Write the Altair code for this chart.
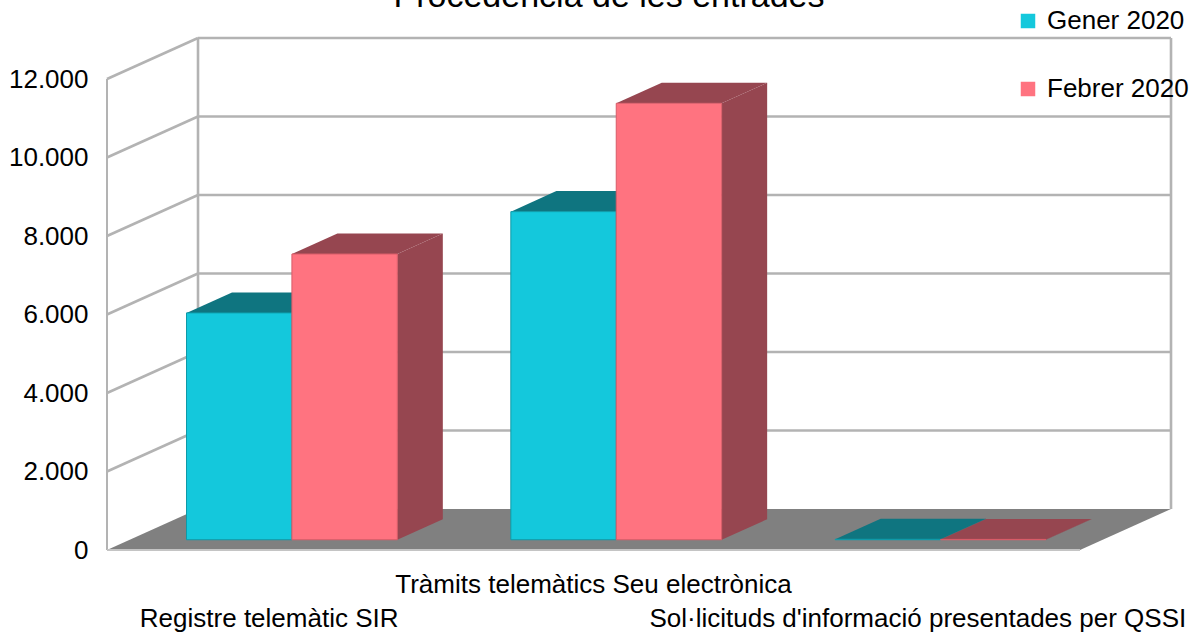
import altair as alt
import pandas as pd

title_text = "Procedencia de les entrades"
categories = [
    "Registre telemàtic SIR",
    "Tràmits telemàtics Seu electrònica",
    "Sol·licituds d'informació presentades per QSSI",
]
series = ["Gener 2020", "Febrer 2020"]
gener = [5780, 8360, 12]
febrer = [7280, 11120, 9]
y_ticks = [0, 2000, 4000, 6000, 8000, 10000, 12000]

front_colors = ["#14C8DC", "#FF7380"]
dark_colors = ["#0F7580", "#964650"]
edge_colors = ["#0E9AA8", "#D85C68"]
GRID = "#B3B3B3"
FLOOR = "#808080"
FONT = "Liberation Sans"

# pseudo-3D projection (style constants)
DX = 0.2806   # depth shift, category units
DY = 1045     # depth shift, value units
F0, F1 = 0.25, 0.75
BAR_START = 0.175
BAR_W = 0.325
N = len(categories)
YMAX = y_ticks[-1]

front, top, side = [], [], []
for i in range(N):
    for s, (name, vals) in enumerate(zip(series, [gener, febrer])):
        v = vals[i]
        x1 = i + BAR_START + s * BAR_W + F0 * DX
        x2 = x1 + BAR_W
        y0 = F0 * DY
        y1 = v + y0
        ddx = (F1 - F0) * DX
        ddy = (F1 - F0) * DY
        bid = f"{i}-{s}"
        front.append(dict(bar=bid, serie=name, x1=x1, x2=x2, y0=y0, y1=y1))
        top.append(dict(bar=bid, serie=name, y=y1, xa=x1, xb=x2))
        top.append(dict(bar=bid, serie=name, y=y1 + ddy, xa=x1 + ddx, xb=x2 + ddx))
        side.append(dict(bar=bid, serie=name, x=x2, ya=y1, yb=y0))
        side.append(dict(bar=bid, serie=name, x=x2 + ddx, ya=y1 + ddy, yb=y0 + ddy))

df_front = pd.DataFrame(front)
df_top = pd.DataFrame(top)
df_side = pd.DataFrame(side)

df_back_h = pd.DataFrame([dict(y=t + DY, xa=DX, xb=N + DX) for t in y_ticks[1:]])
df_back_v = pd.DataFrame([dict(x=DX, ya=DY, yb=YMAX + DY), dict(x=N + DX, ya=DY, yb=YMAX + DY)])
df_diag = pd.DataFrame([dict(xa=0, xb=DX, ya=t, yb=t + DY) for t in y_ticks[1:]])
df_left = pd.DataFrame([dict(x=0, ya=0, yb=YMAX)])
df_floor = pd.DataFrame([dict(y=0, xa=0, xb=N, k="f"), dict(y=DY, xa=DX, xb=N + DX, k="f")])
df_edge = pd.DataFrame([dict(y=0, xa=0, xb=N)])
df_labels = pd.DataFrame([dict(label=c, x=i + 0.5, row=i % 2) for i, c in enumerate(categories)])
df_title = pd.DataFrame([dict(t=title_text)])

xs = alt.Scale(domain=[0, N + DX], nice=False, zero=False)
ys = alt.Scale(domain=[0, YMAX + DY], nice=False, zero=False)
yaxis = alt.Axis(
    values=y_ticks,
    labelExpr="replace(format(datum.value, ',d'), ',', '.')",
    grid=False, domain=False, ticks=False,
    labelFontSize=26, labelFont=FONT, labelColor="#000000",
    labelPadding=19, title=None,
)


def X(f):
    return alt.X(f, type="quantitative", scale=xs, axis=None)


def Y(f):
    return alt.Y(f, type="quantitative", scale=ys, axis=yaxis, stack=None)


back_h = alt.Chart(df_back_h).mark_rule(color=GRID, strokeWidth=2.6).encode(
    x=X("xa"), x2="xb", y=Y("y"))
back_v = alt.Chart(df_back_v).mark_rule(color=GRID, strokeWidth=2.6).encode(
    x=X("x"), y=Y("ya"), y2="yb")
diag = alt.Chart(df_diag).mark_rule(color=GRID, strokeWidth=2.6).encode(
    x=X("xa"), x2="xb", y=Y("ya"), y2="yb")
left = alt.Chart(df_left).mark_rule(color=GRID, strokeWidth=2).encode(
    x=X("x"), y=Y("ya"), y2="yb")
floor = alt.Chart(df_floor).mark_area(orient="horizontal", color=FLOOR).encode(
    y=Y("y"), x=X("xa"), x2="xb", detail="k:N")
edge = alt.Chart(df_edge).mark_rule(color="#C4C4C4", strokeWidth=2).encode(
    x=X("xa"), x2="xb", y=Y("y"))

dark_cond = alt.condition(alt.datum.serie == series[0], alt.value(dark_colors[0]), alt.value(dark_colors[1]))
sides = alt.Chart(df_side).mark_area(orient="vertical").encode(
    x=X("x"), y=Y("ya"), y2="yb", detail="bar:N", fill=dark_cond)
tops = alt.Chart(df_top).mark_area(orient="horizontal").encode(
    y=Y("y"), x=X("xa"), x2="xb", detail="bar:N", fill=dark_cond)
edge_cond = alt.condition(alt.datum.serie == series[0], alt.value(edge_colors[0]), alt.value(edge_colors[1]))
fronts = alt.Chart(df_front).mark_rect(strokeWidth=1).encode(
    x=X("x1"), x2="x2", y=Y("y0"), y2="y1",
    stroke=edge_cond,
    color=alt.Color(
        "serie:N",
        scale=alt.Scale(domain=series, range=front_colors),
        legend=alt.Legend(
            title=None, orient="none", legendX=908, legendY=-30,
            symbolType="square", symbolSize=210, symbolStrokeWidth=0,
            labelFontSize=26, labelFont=FONT, labelColor="#000000",
            rowPadding=42, labelOffset=6,
        ),
    ),
)

lab1 = alt.Chart(df_labels).transform_filter("datum.row == 1").mark_text(
    fontSize=26, font=FONT, color="#000000", align="center", baseline="alphabetic"
).encode(x=X("x"), y=alt.value(555), text="label:N")
lab2 = alt.Chart(df_labels).transform_filter("datum.row == 0").mark_text(
    fontSize=26, font=FONT, color="#000000", align="center", baseline="alphabetic"
).encode(x=X("x"), y=alt.value(589), text="label:N")
title = alt.Chart(df_title).mark_text(
    fontSize=34, font=FONT, color="#000000", align="center", baseline="alphabetic"
).encode(x=alt.value(502), y=alt.value(-31), text="t:N")

chart = alt.layer(
    back_h, back_v, diag, left, floor, edge, sides, tops, fronts, lab1, lab2, title
).properties(
    width=1064, height=512,
    autosize=alt.AutoSizeParams(type="none"),
    padding={"left": 107, "top": 38, "right": 33, "bottom": 82},
    background="white",
).configure_view(stroke=None)

chart.save("out.html", embed_options={"renderer": "svg", "actions": False})
